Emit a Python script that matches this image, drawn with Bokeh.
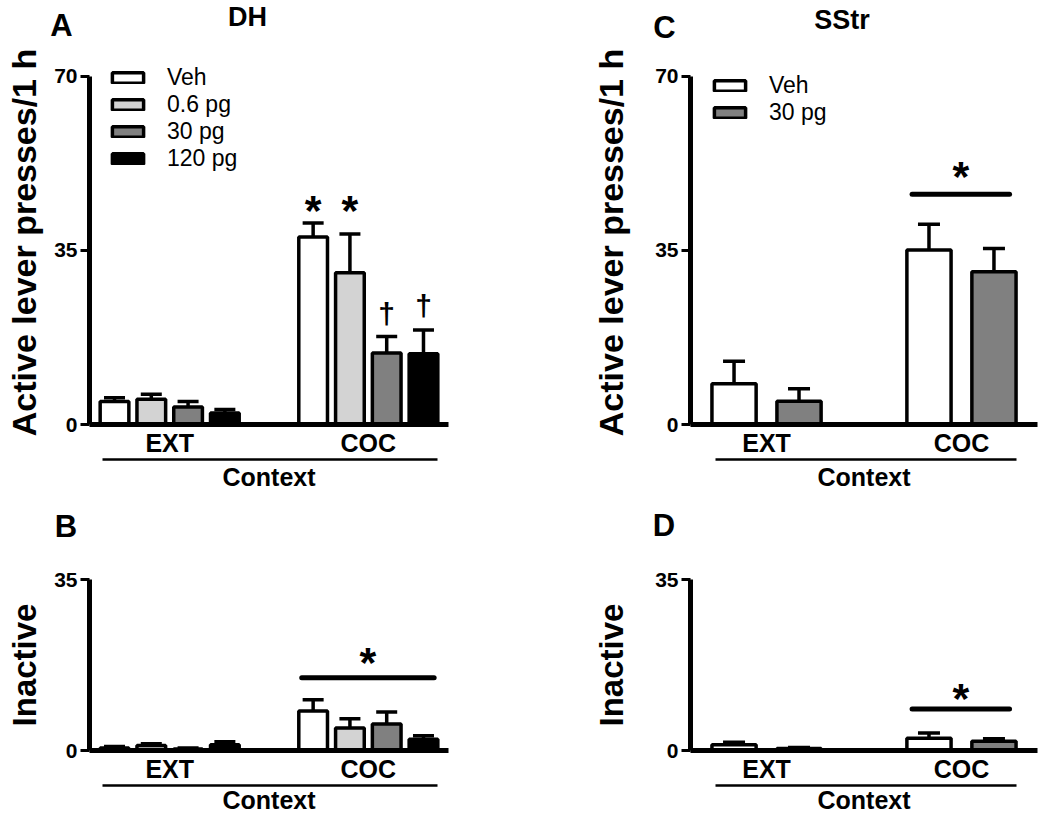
from bokeh.plotting import figure
from bokeh.models import (ColumnDataSource, Range1d, FixedTicker, LinearAxis, Whisker,
                          TeeHead, Legend, LegendItem, Label)
from bokeh.layouts import column, row
from bokeh.embed import file_html
from bokeh.resources import INLINE
from bokeh.core.properties import value

FONT = "Liberation Sans"

contexts = ["EXT", "COC"]
doses_dh = ["Veh", "0.6 pg", "30 pg", "120 pg"]
doses_ss = ["Veh", "30 pg"]
colors_dh = ["#ffffff", "#d3d3d3", "#808080", "#000000"]
colors_ss = ["#ffffff", "#808080"]

# Panel A: DH, active lever presses (mean, SEM) per dose
dh_active_ext = [4.6, 5.1, 3.5, 2.3]
dh_active_ext_sem = [0.8, 1.0, 1.1, 0.7]
dh_active_coc = [37.7, 30.5, 14.4, 14.2]
dh_active_coc_sem = [2.8, 7.8, 3.3, 4.8]

# Panel B: DH, inactive lever presses
dh_inactive_ext = [0.5, 1.0, 0.3, 1.2]
dh_inactive_ext_sem = [0.3, 0.4, 0.2, 0.6]
dh_inactive_coc = [8.1, 4.6, 5.4, 2.3]
dh_inactive_coc_sem = [2.3, 1.9, 2.5, 0.7]

# Panel C: SStr, active lever presses
ss_active_ext = [8.2, 4.7]
ss_active_ext_sem = [4.5, 2.5]
ss_active_coc = [35.1, 30.7]
ss_active_coc_sem = [5.2, 4.7]

# Panel D: SStr, inactive lever presses
ss_inactive_ext = [1.2, 0.4]
ss_inactive_ext_sem = [0.5, 0.2]
ss_inactive_coc = [2.5, 1.9]
ss_inactive_coc_sem = [1.1, 0.5]

# significance marks: (context index, dose index, symbol, y)
sig_a = [(1, 0, "*", 43.8), (1, 1, "*", 43.8), (1, 2, "\u2020", 22.7), (1, 3, "\u2020", 24.3)]
# group significance: (line y, star y)
sig_b = (14.9, 18.9)
sig_c = (46.3, 50.7)
sig_d = (8.5, 11.4)

STAR_OFF = 3.5
DAG_OFF = 2.0


def header(width, height, texts):
    h = figure(width=width, height=height, x_range=Range1d(0, width), y_range=Range1d(0, height),
               min_border_left=0, min_border_right=0, min_border_top=0, min_border_bottom=0,
               toolbar_location=None, output_backend="svg", outline_line_color=None,
               x_axis_location=None, y_axis_location=None,
               background_fill_color="white", border_fill_color="white")
    h.grid.visible = False
    for txt, x, y, size in texts:
        h.add_layout(Label(x=x, y=y, text=txt, text_align="center", text_baseline="middle",
                           text_font=FONT, text_font_style="bold", text_font_size=size,
                           text_color="black"))
    return h


def make_panel(width, height, borders, doses, colors, ext, ext_sem, coc, coc_sem,
               ymax, ytop, yticks, ylabel, ylabel_size, ylabel_standoff, group_gap, bar_w,
               x_pad, cap, ctx_standoff, legend_xy=None, sig_marks=None, sig_group=None):
    bl, br, bt, bb = borders
    n = len(doses)
    x_lo = -x_pad
    x_hi = group_gap + (n - 1) + x_pad
    p = figure(width=width, height=height, x_range=Range1d(x_lo, x_hi),
               y_range=Range1d(0, ytop), min_border_left=bl, min_border_right=br,
               min_border_top=bt, min_border_bottom=bb, toolbar_location=None,
               output_backend="svg", outline_line_color=None,
               background_fill_color="white", border_fill_color="white")
    p.grid.visible = False

    items = []
    for s, dose in enumerate(doses):
        xs = [g * group_gap + s for g in range(2)]
        tops = [ext[s], coc[s]]
        sems = [ext_sem[s], coc_sem[s]]
        src = ColumnDataSource(dict(x=xs, top=tops, upper=[t + e for t, e in zip(tops, sems)]))
        r = p.vbar(x="x", top="top", bottom=0, width=bar_w, source=src,
                   fill_color=colors[s], line_color="black", line_width=3.5)
        w = Whisker(source=src, base="x", lower="top", upper="upper", dimension="height",
                    line_color="black", line_width=3.5,
                    upper_head=TeeHead(size=cap, line_color="black", line_width=3.5),
                    lower_head=None)
        p.add_layout(w)
        items.append(LegendItem(label=dose, renderers=[r]))

    # x axis with context labels
    centers = [round(g * group_gap + (n - 1) / 2, 3) for g in range(2)]
    xa = p.xaxis[0]
    xa.ticker = FixedTicker(ticks=centers)
    xa.major_label_overrides = {c: lab for c, lab in zip(centers, contexts)}
    xa.major_tick_line_color = None
    xa.minor_tick_line_color = None
    xa.major_tick_out = 0
    xa.major_tick_in = 0
    xa.minor_tick_out = 0
    xa.axis_line_width = 5
    xa.axis_line_color = "black"
    xa.major_label_text_font = FONT
    xa.major_label_text_font_style = "bold"
    xa.major_label_text_font_size = "25px"
    xa.major_label_text_color = "black"
    xa.major_label_standoff = 4

    ctx_axis = LinearAxis(bounds=(-bar_w / 2 + 0.05, group_gap + (n - 1) + bar_w / 2),
                          ticker=FixedTicker(ticks=[]), axis_label="Context",
                          axis_line_width=2.5, axis_line_color="black",
                          major_tick_line_color=None, minor_tick_line_color=None,
                          major_tick_out=0, major_tick_in=0, minor_tick_out=0,
                          major_label_standoff=0, axis_label_standoff=ctx_standoff,
                          axis_label_text_font=FONT, axis_label_text_font_style="bold",
                          axis_label_text_font_size="25px", axis_label_text_color="black")
    p.add_layout(ctx_axis, "below")

    ya = p.yaxis[0]
    ya.ticker = FixedTicker(ticks=yticks)
    ya.bounds = (0, ymax)
    ya.axis_line_width = 5
    ya.axis_line_color = "black"
    ya.major_tick_out = 9
    ya.major_tick_in = 0
    ya.major_tick_line_width = 3
    ya.major_tick_line_color = "black"
    ya.minor_tick_line_color = None
    ya.major_label_text_font = FONT
    ya.major_label_text_font_style = "bold"
    ya.major_label_text_font_size = "21px"
    ya.major_label_text_color = "black"
    ya.major_label_standoff = 3
    ya.axis_label = ylabel
    ya.axis_label_text_font = FONT
    ya.axis_label_text_font_style = "bold"
    ya.axis_label_text_font_size = ylabel_size
    ya.axis_label_text_color = "black"
    ya.axis_label_standoff = ylabel_standoff

    if legend_xy is not None:
        leg = Legend(items=items, location=legend_xy, orientation="vertical",
                     glyph_width=39, glyph_height=13, label_standoff=20, spacing=-2,
                     padding=0, margin=0, border_line_color=None,
                     background_fill_alpha=0, label_height=24,
                     label_text_font=FONT, label_text_font_size="23px",
                     label_text_line_height=1.0, label_text_color="black")
        p.add_layout(leg)

    if sig_marks:
        for g, s, sym, y in sig_marks:
            fs = 43 if sym == "*" else 30
            off = STAR_OFF if sym == "*" else DAG_OFF
            p.text(x=[g * group_gap + s], y=[y], text=[sym], text_align="center",
                   text_baseline="alphabetic", y_offset=off,
                   text_font=value(FONT), text_font_style="bold",
                   text_font_size=f"{fs}px", text_color="black")
    if sig_group:
        ly, sy = sig_group
        x0 = group_gap - bar_w / 2 + 0.08
        x1 = group_gap + (n - 1) + bar_w / 2 - 0.1
        p.segment(x0=[x0], y0=[ly], x1=[x1], y1=[ly], line_width=5,
                  line_color="black", line_cap="round")
        p.text(x=[(x0 + x1) / 2], y=[sy], text=["*"], text_align="center",
               text_baseline="alphabetic", y_offset=STAR_OFF,
               text_font=value(FONT), text_font_style="bold",
               text_font_size="43px", text_color="black")
    return p


hA = header(520, 44, [("A", 61, 19, "31px"), ("DH", 247, 28, "27px")])
hC = header(530, 44, [("C", 144, 17, "31px"), ("SStr", 321.5, 25, "27px")])

pA = make_panel(520, 451, (89, 72, 12, 71), doses_dh, colors_dh,
                dh_active_ext, dh_active_ext_sem, dh_active_coc, dh_active_coc_sem,
                70, 70 * 368 / 352, [0, 35, 70], "Active lever presses/1 h", "34px", 8,
                5.4, 0.78, 0.68, 21, 3, legend_xy=(19, 252), sig_marks=sig_a)

pC = make_panel(530, 451, (170, 13, 16, 70), doses_ss, colors_ss,
                ss_active_ext, ss_active_ext_sem, ss_active_coc, ss_active_coc_sem,
                70, 70 * 365 / 349, [0, 35, 70], "Active lever presses/1 h", "34px", 22,
                3.0, 0.68, 0.67, 22, 3, legend_xy=(20, 298), sig_group=sig_c)

hB = header(520, 50, [("B", 65.5, 19, "31px")])
hD = header(530, 50, [("D", 143.5, 20, "31px")])

pB = make_panel(520, 271, (89, 72, 32, 63), doses_dh, colors_dh,
                dh_inactive_ext, dh_inactive_ext_sem, dh_inactive_coc, dh_inactive_coc_sem,
                35, 35, [0, 35], "Inactive", "33px", 8, 5.4, 0.78, 0.68, 21, 0,
                sig_group=sig_b)

pD = make_panel(530, 271, (170, 13, 34, 60), doses_ss, colors_ss,
                ss_inactive_ext, ss_inactive_ext_sem, ss_inactive_coc, ss_inactive_coc_sem,
                35, 35, [0, 35], "Inactive", "33px", 22, 3.0, 0.68, 0.67, 22, 0,
                sig_group=sig_d)

layout = column(row(hA, hC), row(pA, pC), row(hB, hD), row(pB, pD))
open("out.html", "w").write(file_html(layout, INLINE))
